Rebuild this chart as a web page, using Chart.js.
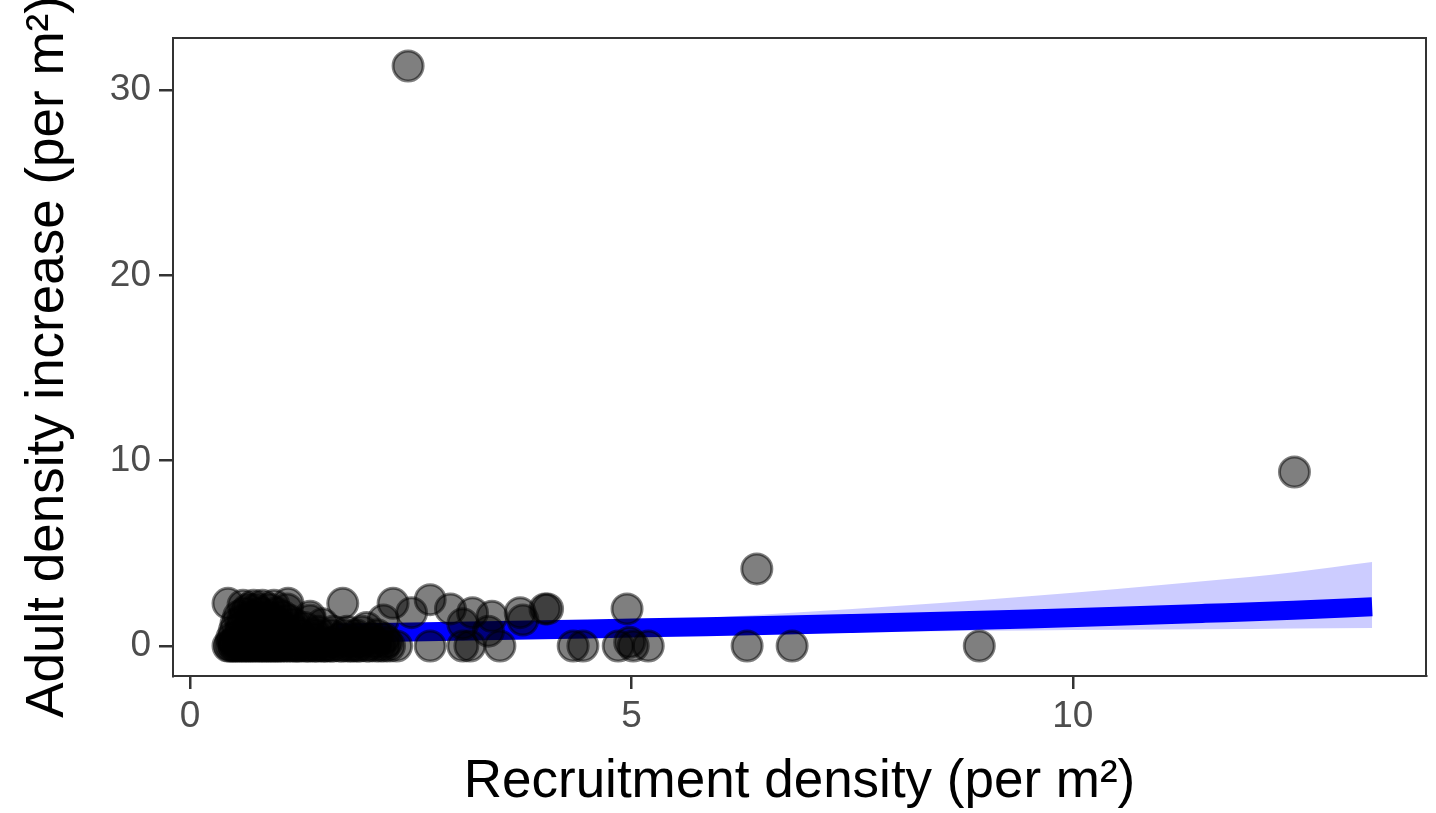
<!DOCTYPE html>
<html>
<head>
<meta charset="utf-8">
<script src="https://cdn.jsdelivr.net/npm/chart.js@4.4.0/dist/chart.umd.min.js"></script>
<style>
  html, body { margin: 0; padding: 0; background: #fff; }
  #wrap { width: 1436px; height: 813px; }
</style>
</head>
<body>
<div id="wrap"><canvas id="plot" width="1436" height="813"></canvas></div>
<script>
// adult density increase levels, and the recruitment densities observed at each level
const adultLevels = [0, 0.2, 0.4, 0.6, 0.8, 1.0, 1.2, 1.4, 1.6, 1.8, 2.0, 2.2, 2.3, 2.5, 4.16, 9.39, 31.3];
const recruitByLevel = [
  [0.43, 0.45, 0.48, 0.50, 0.52, 0.55, 0.57, 0.60, 0.62, 0.65, 0.67, 0.70, 0.72, 0.75, 0.78, 0.80,
   0.83, 0.85, 0.88, 0.90, 0.93, 0.95, 0.98, 1.00, 1.03, 1.06, 1.10, 1.13, 1.17, 1.20, 1.25, 1.30,
   1.35, 1.40, 1.45, 1.50, 1.55, 1.62, 1.70, 1.78, 1.85, 1.92, 2.00, 2.10, 2.20, 2.34, 2.72, 3.09,
   3.17, 3.51, 4.34, 4.45, 4.85, 5.02, 5.19, 6.31, 6.82, 8.94,
   1.22, 1.33, 1.42, 1.52, 1.60, 1.72, 1.82, 1.90, 2.03, 2.15, 2.26],
  [0.50, 0.70, 0.90, 1.10, 1.30, 1.50, 1.80, 2.23, 4.98, 1.62, 1.92, 2.10],
  [0.47, 0.60, 0.80, 0.95, 1.15, 1.40, 1.90, 2.05, 1.70, 2.20],
  [0.55, 0.75, 0.88, 1.05, 1.25, 1.60, 1.75, 1.42, 1.88, 2.12],
  [0.50, 0.65, 0.80, 1.00, 1.20, 1.45, 1.95, 3.38, 1.62, 1.78],
  [0.58, 0.72, 0.90, 1.08, 1.30, 2.00],
  [0.52, 0.68, 0.85, 1.00, 1.18, 1.50, 3.09],
  [0.60, 0.78, 0.95, 1.12, 1.36, 2.19, 3.77],
  [0.55, 0.70, 0.88, 1.05, 1.36, 3.42],
  [0.62, 0.80, 0.98, 2.51, 3.20, 3.74],
  [0.66, 0.75, 0.90, 1.10, 2.95, 4.02, 4.05, 4.95],
  [0.60, 0.72, 0.82, 0.95],
  [0.43, 1.11, 1.73, 2.30],
  [2.72],
  [6.42],
  [12.51],
  [2.47]
];

// fitted curve and confidence band
const fitX = [1.66, 2.5, 3.5, 4.5, 5.5, 6.5, 7.5, 8.5, 9.5, 10.5, 11.5, 12.5, 13.39];
const fitY = [0.70, 0.76, 0.84, 0.92, 1.01, 1.10, 1.21, 1.33, 1.46, 1.60, 1.76, 1.93, 2.12];
const fitUpper = [0.90, 0.98, 1.10, 1.25, 1.45, 1.70, 2.00, 2.32, 2.68, 3.07, 3.50, 3.98, 4.53];
const fitLower = [0.52, 0.58, 0.64, 0.68, 0.71, 0.74, 0.77, 0.80, 0.83, 0.87, 0.90, 0.94, 0.97];

const xTicks = [0, 5, 10];
const yTicks = [0, 10, 20, 30];

const FONT = '"Liberation Sans", Arial, Helvetica, sans-serif';

const points = [];
adultLevels.forEach((y, i) => {
  recruitByLevel[i].forEach(x => points.push({ x: x, y: y }));
});
const curve = fitX.map((x, i) => ({ x: x, y: fitY[i] }));
const upper = fitX.map((x, i) => ({ x: x, y: fitUpper[i] }));
const lower = fitX.map((x, i) => ({ x: x, y: fitLower[i] }));

// full panel border like ggplot theme_bw
const panelBox = {
  id: 'panelBox',
  afterDatasetsDraw(chart) {
    const a = chart.chartArea;
    const ctx = chart.ctx;
    ctx.save();
    ctx.strokeStyle = '#333333';
    ctx.lineWidth = 2;
    ctx.strokeRect(a.left, a.top, a.right - a.left, a.bottom - a.top);
    ctx.restore();
  }
};

new Chart(document.getElementById('plot').getContext('2d'), {
  type: 'scatter',
  data: {
    datasets: [
      {
        type: 'line', data: lower, order: 3,
        borderWidth: 0, pointRadius: 0, fill: false, cubicInterpolationMode: 'monotone'
      },
      {
        type: 'line', data: upper, order: 2,
        borderWidth: 0, pointRadius: 0, fill: '-1',
        backgroundColor: 'rgba(0,0,255,0.2)', cubicInterpolationMode: 'monotone'
      },
      {
        type: 'line', data: curve, order: 1,
        borderColor: '#0000ff', borderWidth: 19, borderCapStyle: 'butt',
        pointRadius: 0, fill: false, cubicInterpolationMode: 'monotone'
      },
      {
        type: 'scatter', data: points, order: 0,
        pointRadius: 15, borderWidth: 3,
        backgroundColor: 'rgba(0,0,0,0.5)',
        borderColor: 'rgba(0,0,0,0.5)'
      }
    ]
  },
  options: {
    responsive: false,
    animation: false,
    events: [],
    layout: { autoPadding: false, padding: { top: 38, right: 10, left: 0, bottom: 0 } },
    plugins: { legend: { display: false }, tooltip: { enabled: false } },
    scales: {
      x: {
        type: 'linear',
        min: -0.193,
        max: 14.0,
        afterFit(scale) { scale.height = 137; scale.paddingLeft = 0; scale.paddingRight = 0; },
        afterBuildTicks(scale) { scale.ticks = xTicks.map(v => ({ value: v })); },
        grid: { drawOnChartArea: false, drawTicks: true, tickLength: 13, tickColor: '#333333', lineWidth: 2.5 },
        border: { display: true, color: '#333333', width: 2 },
        ticks: { color: '#4d4d4d', padding: 6, maxRotation: 0, font: { family: FONT, size: 37 } },
        title: {
          display: true,
          text: 'Recruitment density (per m²)',
          color: '#000000',
          font: { family: FONT, size: 53, lineHeight: 1 },
          padding: { top: 0, bottom: 4 }
        }
      },
      y: {
        type: 'linear',
        min: -1.62,
        max: 32.81,
        afterFit(scale) { scale.width = 173; scale.paddingTop = 0; scale.paddingBottom = 0; },
        afterBuildTicks(scale) { scale.ticks = yTicks.map(v => ({ value: v })); },
        grid: { drawOnChartArea: false, drawTicks: true, tickLength: 14, tickColor: '#333333', lineWidth: 2.5 },
        border: { display: true, color: '#333333', width: 2 },
        ticks: { color: '#4d4d4d', padding: 8, font: { family: FONT, size: 37 } },
        title: {
          display: true,
          text: 'Adult density increase (per m²)',
          color: '#000000',
          font: { family: FONT, size: 53, lineHeight: 1 },
          padding: { top: 22, bottom: 0 }
        }
      }
    }
  },
  plugins: [panelBox]
});
</script>
</body>
</html>
